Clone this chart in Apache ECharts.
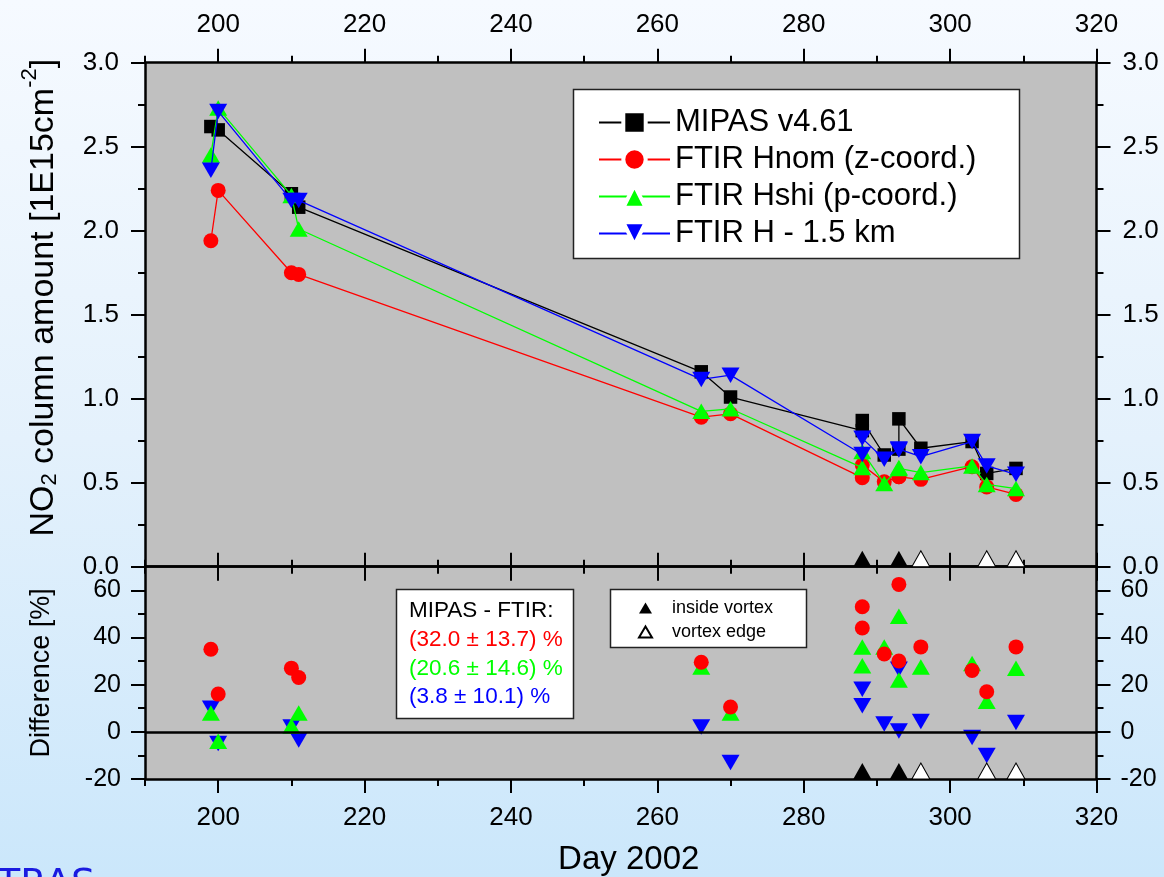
<!DOCTYPE html>
<html>
<head>
<meta charset="utf-8">
<script src="https://cdn.jsdelivr.net/npm/echarts@6/dist/echarts.min.js"></script>
<style>
  html, body { margin: 0; padding: 0; }
  #chart { width: 1164px; height: 877px; }
</style>
</head>
<body>
<div id="chart"></div>
<script>
// Observation days in 2002 (two overpasses on days 288 and 293)
const days = [199, 200, 210, 211, 266, 270, 288, 288, 291, 293, 293, 296, 303, 305, 309];

// NO2 column amounts [1E15 cm^-2]
const mipas    = [2.62, 2.60, 2.22, 2.14, 1.16, 1.01, 0.81, 0.87, 0.665, 0.70, 0.88, 0.705, 0.745, 0.555, 0.585];
const ftirHnom = [1.94, 2.24, 1.75, 1.74, 0.89, 0.91, 0.53, 0.605, 0.505, 0.535, 0.535, 0.52, 0.595, 0.475, 0.43];
const ftirHshi = [2.45, 2.73, 2.21, 2.01, 0.925, 0.94, 0.59, 0.685, 0.495, 0.585, 0.59, 0.56, 0.60, 0.49, 0.465];
const ftirH15  = [2.36, 2.71, 2.18, 2.18, 1.115, 1.14, 0.668, 0.764, 0.64, 0.70, 0.695, 0.655, 0.745, 0.60, 0.55];

// MIPAS - FTIR differences [%]
const diffHnom = [35, 16, 27, 23, 29.5, 10.5, 53, 44, 33, 30, 62.5, 36, 26, 17, 36];
const diffHshi = [8, -4, 2.5, 8, 27.5, 8, 36, 28, 36, 22, 49, 27.5, 29, 13, 27];
const diffH15  = [10, -5, 2, -3.5, 2, -13, 18, 11, 3.3, 0.4, 26.5, 4.4, -2.4, -10, 4];

// Vortex situation of the observations
const insideVortexDays = [288, 293];
const vortexEdgeDays = [296, 305, 309];

// Tick positions
const dayMajorTicks = [200, 220, 240, 260, 280, 300, 320];
const dayMinorTicks = [190, 210, 230, 250, 270, 290, 310];
const diffMajorTicks = [-20, 0, 20, 40, 60];
const diffMinorTicks = [-10, 10, 30, 50];

const seriesNames = ['MIPAS v4.61', 'FTIR Hnom (z-coord.)', 'FTIR Hshi (p-coord.)', 'FTIR H - 1.5 km'];
const vortexNames = ['inside vortex', 'vortex edge'];
const statsTitle = 'MIPAS - FTIR:';
const statsLines = ['(32.0 \u00b1 13.7) %', '(20.6 \u00b1 14.6) %', '(3.8 \u00b1 10.1) %'];

const FONT = '"Liberation Sans", Arial, Helvetica, sans-serif';
const RED = '#ff0000', GREEN = '#00ff00', BLUE = '#0000ff', BLACK = '#000000';
const DOWN_TRIANGLE = 'path://M0,0L20,0L10,18Z';

const axisLine = { show: true, onZero: false, lineStyle: { color: BLACK, width: 2.5 } };
const tickStyle = { color: BLACK, width: 2 };

function dayAxis(grid, position, major, labels, extra) {
  return Object.assign({
    type: 'value', gridIndex: grid, position: position, min: 190, max: 320,
    axisLine: major ? axisLine : { show: false, onZero: false },
    axisTick: { show: true, customValues: major ? dayMajorTicks : dayMinorTicks,
                length: major ? 14 : 7, lineStyle: tickStyle },
    axisLabel: labels
      ? { show: true, customValues: dayMajorTicks, fontSize: 26, color: BLACK, fontFamily: FONT, margin: labels }
      : { show: false },
    splitLine: { show: false }
  }, extra || {});
}

function diffAxis(position, major, extra) {
  return Object.assign({
    type: 'value', gridIndex: 1, position: position, min: -20, max: 70,
    axisLine: major ? axisLine : { show: false, onZero: false },
    axisTick: { show: true, customValues: major ? diffMajorTicks : diffMinorTicks,
                length: major ? 14 : 7, lineStyle: tickStyle },
    axisLabel: major
      ? { show: true, customValues: diffMajorTicks, fontSize: 25, color: BLACK, fontFamily: FONT, margin: 24 }
      : { show: false },
    splitLine: { show: false }
  }, extra || {});
}

function columnAxis(position, extra) {
  return Object.assign({
    type: 'value', gridIndex: 0, position: position, min: 0, max: 3, interval: 0.5,
    axisLine: axisLine,
    axisTick: { show: true, length: 14, lineStyle: tickStyle },
    minorTick: { show: true, splitNumber: 2, length: 7, lineStyle: tickStyle },
    axisLabel: { show: true, fontSize: 26, color: BLACK, fontFamily: FONT, margin: 26,
                 formatter: v => v.toFixed(1) },
    splitLine: { show: false }, minorSplitLine: { show: false }
  }, extra || {});
}

function pairs(values) { return days.map((d, i) => [d, values[i]]); }

function profileLine(name, values, color, symbol, size, z) {
  return {
    type: 'line', name: name, xAxisIndex: 0, yAxisIndex: 0, data: pairs(values),
    symbol: symbol, symbolSize: size, showSymbol: true, showAllSymbol: true,
    lineStyle: { color: color, width: 1.3 },
    itemStyle: { color: color, borderWidth: 0 },
    z: z, animation: false
  };
}

function diffScatter(name, values, color, symbol, size, z, extra) {
  return Object.assign({
    type: 'scatter', name: name, xAxisIndex: 6, yAxisIndex: 2, data: pairs(values),
    symbol: symbol, symbolSize: size, itemStyle: { color: color, opacity: 1 },
    z: z, animation: false
  }, extra || {});
}

function vortexMarks(name, dayList, fill, xIdx, yIdx, base) {
  return {
    type: 'scatter', name: name, xAxisIndex: xIdx, yAxisIndex: yIdx,
    data: dayList.map(d => [d, base]),
    symbol: 'triangle', symbolSize: [18, 16], symbolOffset: [0, '-50%'], clip: false,
    itemStyle: { color: fill, borderColor: BLACK, borderWidth: fill === BLACK ? 0 : 1, opacity: 1 },
    z: 6, animation: false
  };
}

const chart = echarts.init(document.getElementById('chart'), null, { renderer: 'canvas' });

const option = {
  animation: false,
  backgroundColor: {
    type: 'linear', x: 0, y: 0, x2: 0, y2: 1,
    colorStops: [{ offset: 0, color: '#f6faff' }, { offset: 0.5, color: '#e4f1fc' }, { offset: 1, color: '#cbe7fb' }]
  },
  textStyle: { fontFamily: FONT },
  grid: [
    { left: 145, right: 67.5, top: 62.7, height: 504, show: true, backgroundColor: '#c0c0c0', borderWidth: 0 },
    { left: 145, right: 67.5, top: 566.7, height: 213.3, show: true, backgroundColor: '#c0c0c0', borderWidth: 0 }
  ],
  xAxis: [
    dayAxis(0, 'bottom', true, 0),
    dayAxis(0, 'bottom', false, 0),
    dayAxis(0, 'top', true, 25),
    dayAxis(0, 'top', false, 0),
    dayAxis(1, 'top', true, 0),
    dayAxis(1, 'top', false, 0),
    dayAxis(1, 'bottom', true, 26, {
      name: 'Day 2002', nameLocation: 'middle', nameGap: 64,
      nameTextStyle: { fontSize: 33, color: BLACK, fontFamily: FONT, padding: [0, 0, 0, 16] }
    }),
    dayAxis(1, 'bottom', false, 0)
  ],
  yAxis: [
    columnAxis('left', {
      name: '{n|NO}{s|2}{n| column amount [1E15cm}{p|-2}{n|]}',
      nameLocation: 'middle', nameGap: 84,
      nameTextStyle: {
        color: BLACK, fontFamily: FONT, fontSize: 34, padding: [0, 0, 0, 34],
        rich: {
          n: { fontSize: 34, lineHeight: 42, verticalAlign: 'bottom', color: BLACK, fontFamily: FONT },
          s: { fontSize: 22, lineHeight: 22, verticalAlign: 'bottom', color: BLACK, fontFamily: FONT },
          p: { fontSize: 22, lineHeight: 22, verticalAlign: 'top', color: BLACK, fontFamily: FONT }
        }
      }
    }),
    columnAxis('right'),
    diffAxis('left', true, {
      name: 'Difference [%]', nameLocation: 'middle', nameGap: 90,
      nameTextStyle: { fontSize: 27, color: BLACK, fontFamily: FONT }
    }),
    diffAxis('left', false),
    diffAxis('right', true),
    diffAxis('right', false)
  ],
  legend: [
    {
      data: seriesNames, orient: 'vertical', left: 593, top: 102,
      itemWidth: 71, itemHeight: 28, itemGap: 6, selectedMode: false,
      textStyle: { fontSize: 31, color: BLACK, fontFamily: FONT },
      itemStyle: { borderColor: '#ffffff', borderWidth: 4 },
      z: 20
    },
    {
      data: vortexNames, orient: 'vertical', left: 633, top: 594,
      itemWidth: 13, itemHeight: 11, itemGap: 6, selectedMode: false,
      textStyle: { fontSize: 18, color: BLACK, fontFamily: FONT, padding: [0, 0, 0, 15] },
      z: 20
    }
  ],
  graphic: [
    { type: 'rect', z: 10, shape: { x: 573.5, y: 89.5, width: 446, height: 169 },
      style: { fill: '#ffffff', stroke: '#222222', lineWidth: 1.5 } },
    { type: 'rect', z: 10, shape: { x: 396.5, y: 589.5, width: 177, height: 129 },
      style: { fill: '#ffffff', stroke: '#222222', lineWidth: 1.5 } },
    { type: 'rect', z: 10, shape: { x: 610.5, y: 589.5, width: 196, height: 58 },
      style: { fill: '#ffffff', stroke: '#222222', lineWidth: 1.5 } },
    { type: 'text', z: 11, x: 409, y: 611,
      style: { text: statsTitle, fill: BLACK, fontSize: 22.5, fontFamily: FONT, verticalAlign: 'middle' } },
    { type: 'text', z: 11, x: 409, y: 640,
      style: { text: statsLines[0], fill: RED, fontSize: 22.5, fontFamily: FONT, verticalAlign: 'middle' } },
    { type: 'text', z: 11, x: 409, y: 668.5,
      style: { text: statsLines[1], fill: GREEN, fontSize: 22.5, fontFamily: FONT, verticalAlign: 'middle' } },
    { type: 'text', z: 11, x: 409, y: 697,
      style: { text: statsLines[2], fill: BLUE, fontSize: 22.5, fontFamily: FONT, verticalAlign: 'middle' } },
    { type: 'text', z: 11, x: -3, y: 866,
      style: { text: 'TRAS', fill: '#1a1ae0', fontSize: 38, fontFamily: '"DejaVu Sans", Verdana, sans-serif' } }
  ],
  series: [
    profileLine(seriesNames[0], mipas, BLACK, 'rect', 13.5, 2),
    profileLine(seriesNames[1], ftirHnom, RED, 'circle', 15, 3),
    profileLine(seriesNames[2], ftirHshi, GREEN, 'triangle', [18, 15.5], 4),
    profileLine(seriesNames[3], ftirH15, BLUE, DOWN_TRIANGLE, [18, 15.5], 5),

    diffScatter(seriesNames[3], diffH15, BLUE, DOWN_TRIANGLE, [18, 15.5], 3, {
      markLine: {
        silent: true, symbol: 'none', label: { show: false }, animation: false,
        lineStyle: { color: BLACK, type: 'solid', width: 2.5 },
        data: [{ yAxis: 0 }]
      }
    }),
    diffScatter(seriesNames[2], diffHshi, GREEN, 'triangle', [18, 15.5], 4),
    diffScatter(seriesNames[1], diffHnom, RED, 'circle', 15, 5),

    vortexMarks(vortexNames[0], insideVortexDays, BLACK, 0, 0, 0),
    vortexMarks(vortexNames[1], vortexEdgeDays, '#ffffff', 0, 0, 0),
    vortexMarks(vortexNames[0], insideVortexDays, BLACK, 6, 2, -20),
    vortexMarks(vortexNames[1], vortexEdgeDays, '#ffffff', 6, 2, -20)
  ]
};

chart.setOption(option);
</script>
</body>
</html>
